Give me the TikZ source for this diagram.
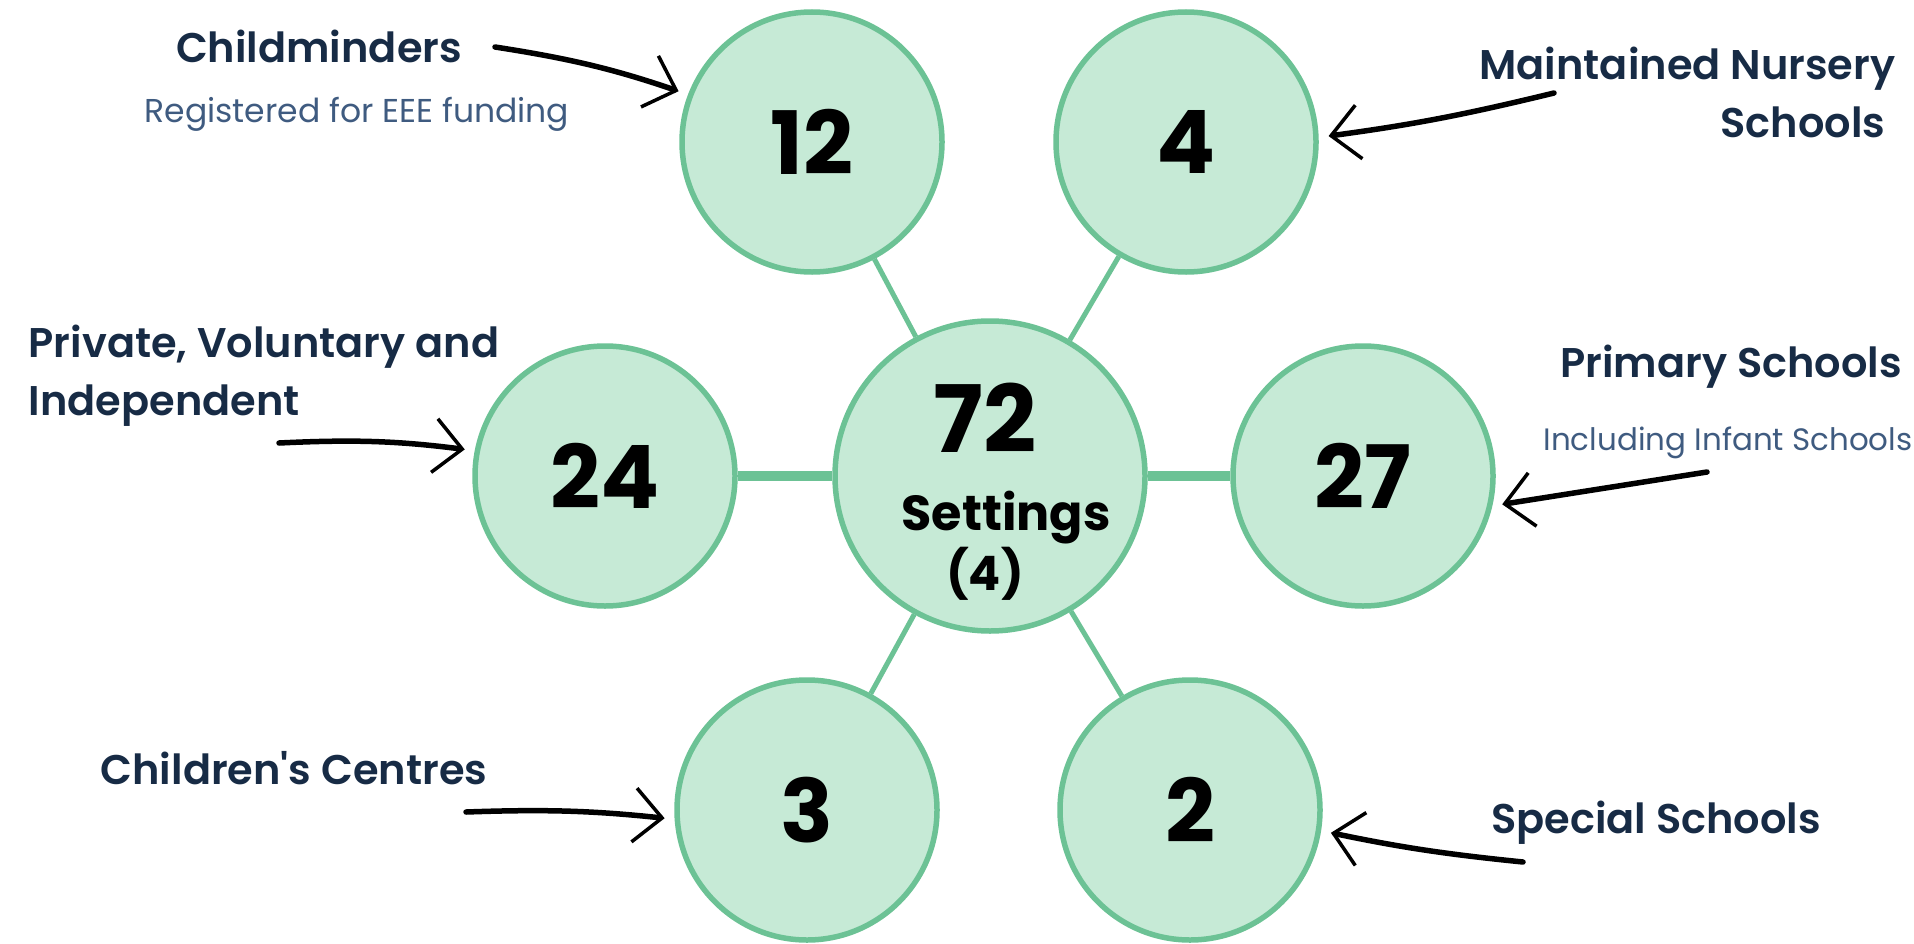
\documentclass[tikz,border=0pt]{standalone}
\usepackage{fontspec}
\usepackage{tikz}
\usetikzlibrary{arrows.meta}
\newfontfamily\labelfont{Poppins}[BoldFont={* SemiBold}]
\newfontfamily\numfont{Poppins}
\definecolor{mint}{RGB}{198,234,214}
\definecolor{leaf}{RGB}{108,194,149}
\definecolor{navy}{RGB}{23,43,69}
\definecolor{slate}{RGB}{63,91,128}

\begin{document}
\begin{tikzpicture}
\tikzset{
    bubble/.style={circle, draw=leaf, fill=mint, line width=0.055cm, minimum size=2.6cm, inner sep=0pt,
        font=\numfont\bfseries\fontsize{24.9}{26}\selectfont},
    hubcirc/.style={bubble, minimum size=3.1cm},
    spoke/.style={draw=leaf, line width=0.05cm},
    thickspoke/.style={draw=leaf, line width=0.1cm},
    hubtxt/.style={inner sep=0pt, anchor=base, font=\numfont\bfseries\fontsize{14}{16}\selectfont},
    headtxt/.style={inner sep=0pt, text=navy, font=\labelfont\bfseries\fontsize{11.8}{14}\selectfont},
    subtxt/.style={inner sep=0pt, text=slate, font=\labelfont\fontsize{9.4}{11}\selectfont},
    handarrow/.style={line width=0.055cm, line cap=round, shorten >=1mm,
        -{Straight Barb[length=2.8mm, width=5.4mm, line width=1pt]}}
}
\useasboundingbox (0,0) rectangle (19.14,9.43);

% Circles
\node[bubble] (circCM) at (8.12,8.01) {12};
\node[bubble] (circMN) at (11.86,8.01) {4};
\node[bubble] (circPVI) at (6.05,4.67) {24};
\node[bubble] (circPS) at (13.63,4.67) {27};
\node[bubble] (circCC) at (8.07,1.33) {3};
\node[bubble] (circSS) at (11.90,1.33) {2};
\node[hubcirc] (circHub) at (9.90,4.67) {};

% Spokes
\draw[spoke] (circHub) -- (circCM);
\draw[spoke] (circHub) -- (circMN);
\draw[spoke] (circHub) -- (circCC);
\draw[spoke] (circHub) -- (circSS);
\draw[thickspoke] (circHub) -- (circPVI);
\draw[thickspoke] (circHub) -- (circPS);

% Hub text
\node[hubtxt, font=\numfont\bfseries\fontsize{26.5}{28}\selectfont] (hub72) at (9.85,4.91) {72};
\node[hubtxt] (hubSet) at (10.06,4.13) {Settings};
\node[hubtxt, font=\numfont\bfseries\fontsize{13.5}{16}\selectfont] (hubCount) at (9.85,3.53) {(4)};

% Labels
\node[headtxt, anchor=base] (txtCM) at (3.19,8.81) {Childminders};
\node[subtxt, anchor=base] (subCM) at (3.57,8.20) {Registered for EEE funding};
\node[headtxt, anchor=base east] (txtMN) at (18.96,8.63) {Maintained Nursery};
\node[headtxt, anchor=base east] (txtMN2) at (18.86,8.06) {Schools};
\node[headtxt, anchor=base west] (txtPVI) at (0.28,5.86) {Private, Voluntary and};
\node[headtxt, anchor=base west] (txtPVI2) at (0.28,5.28) {Independent};
\node[headtxt, anchor=base] (txtPS) at (17.31,5.66) {Primary Schools};
\node[subtxt, anchor=base, font=\labelfont\fontsize{8.8}{11}\selectfont] (subPS) at (17.28,4.93) {Including Infant Schools};
\node[headtxt, anchor=base] (txtCC) at (2.94,1.59) {Children's Centres};
\node[headtxt, anchor=base] (txtSS) at (16.56,1.10) {Special Schools};

% Arrows
\coordinate (tailCM) at (4.95,8.96);
\coordinate (tailMN) at (15.54,8.50);
\coordinate (tailPVI) at (2.79,5.00);
\coordinate (tailPS) at (17.07,4.71);
\coordinate (tailCC) at (4.66,1.31);
\coordinate (tailSS) at (15.23,0.81);
\draw[handarrow] (tailCM) to[bend left=5] (circCM.159);
\draw[handarrow] (tailMN) to[bend left=3] (circMN.2);
\draw[handarrow] (tailPVI) to[bend left=5] (circPVI.169);
\draw[handarrow] (tailPS) -- (circPS.-13);
\draw[handarrow] (tailCC) to[bend left=4] (circCC.184);
\draw[handarrow] (tailSS) to[bend left=3] (circSS.-9);
\end{tikzpicture}
\end{document}
